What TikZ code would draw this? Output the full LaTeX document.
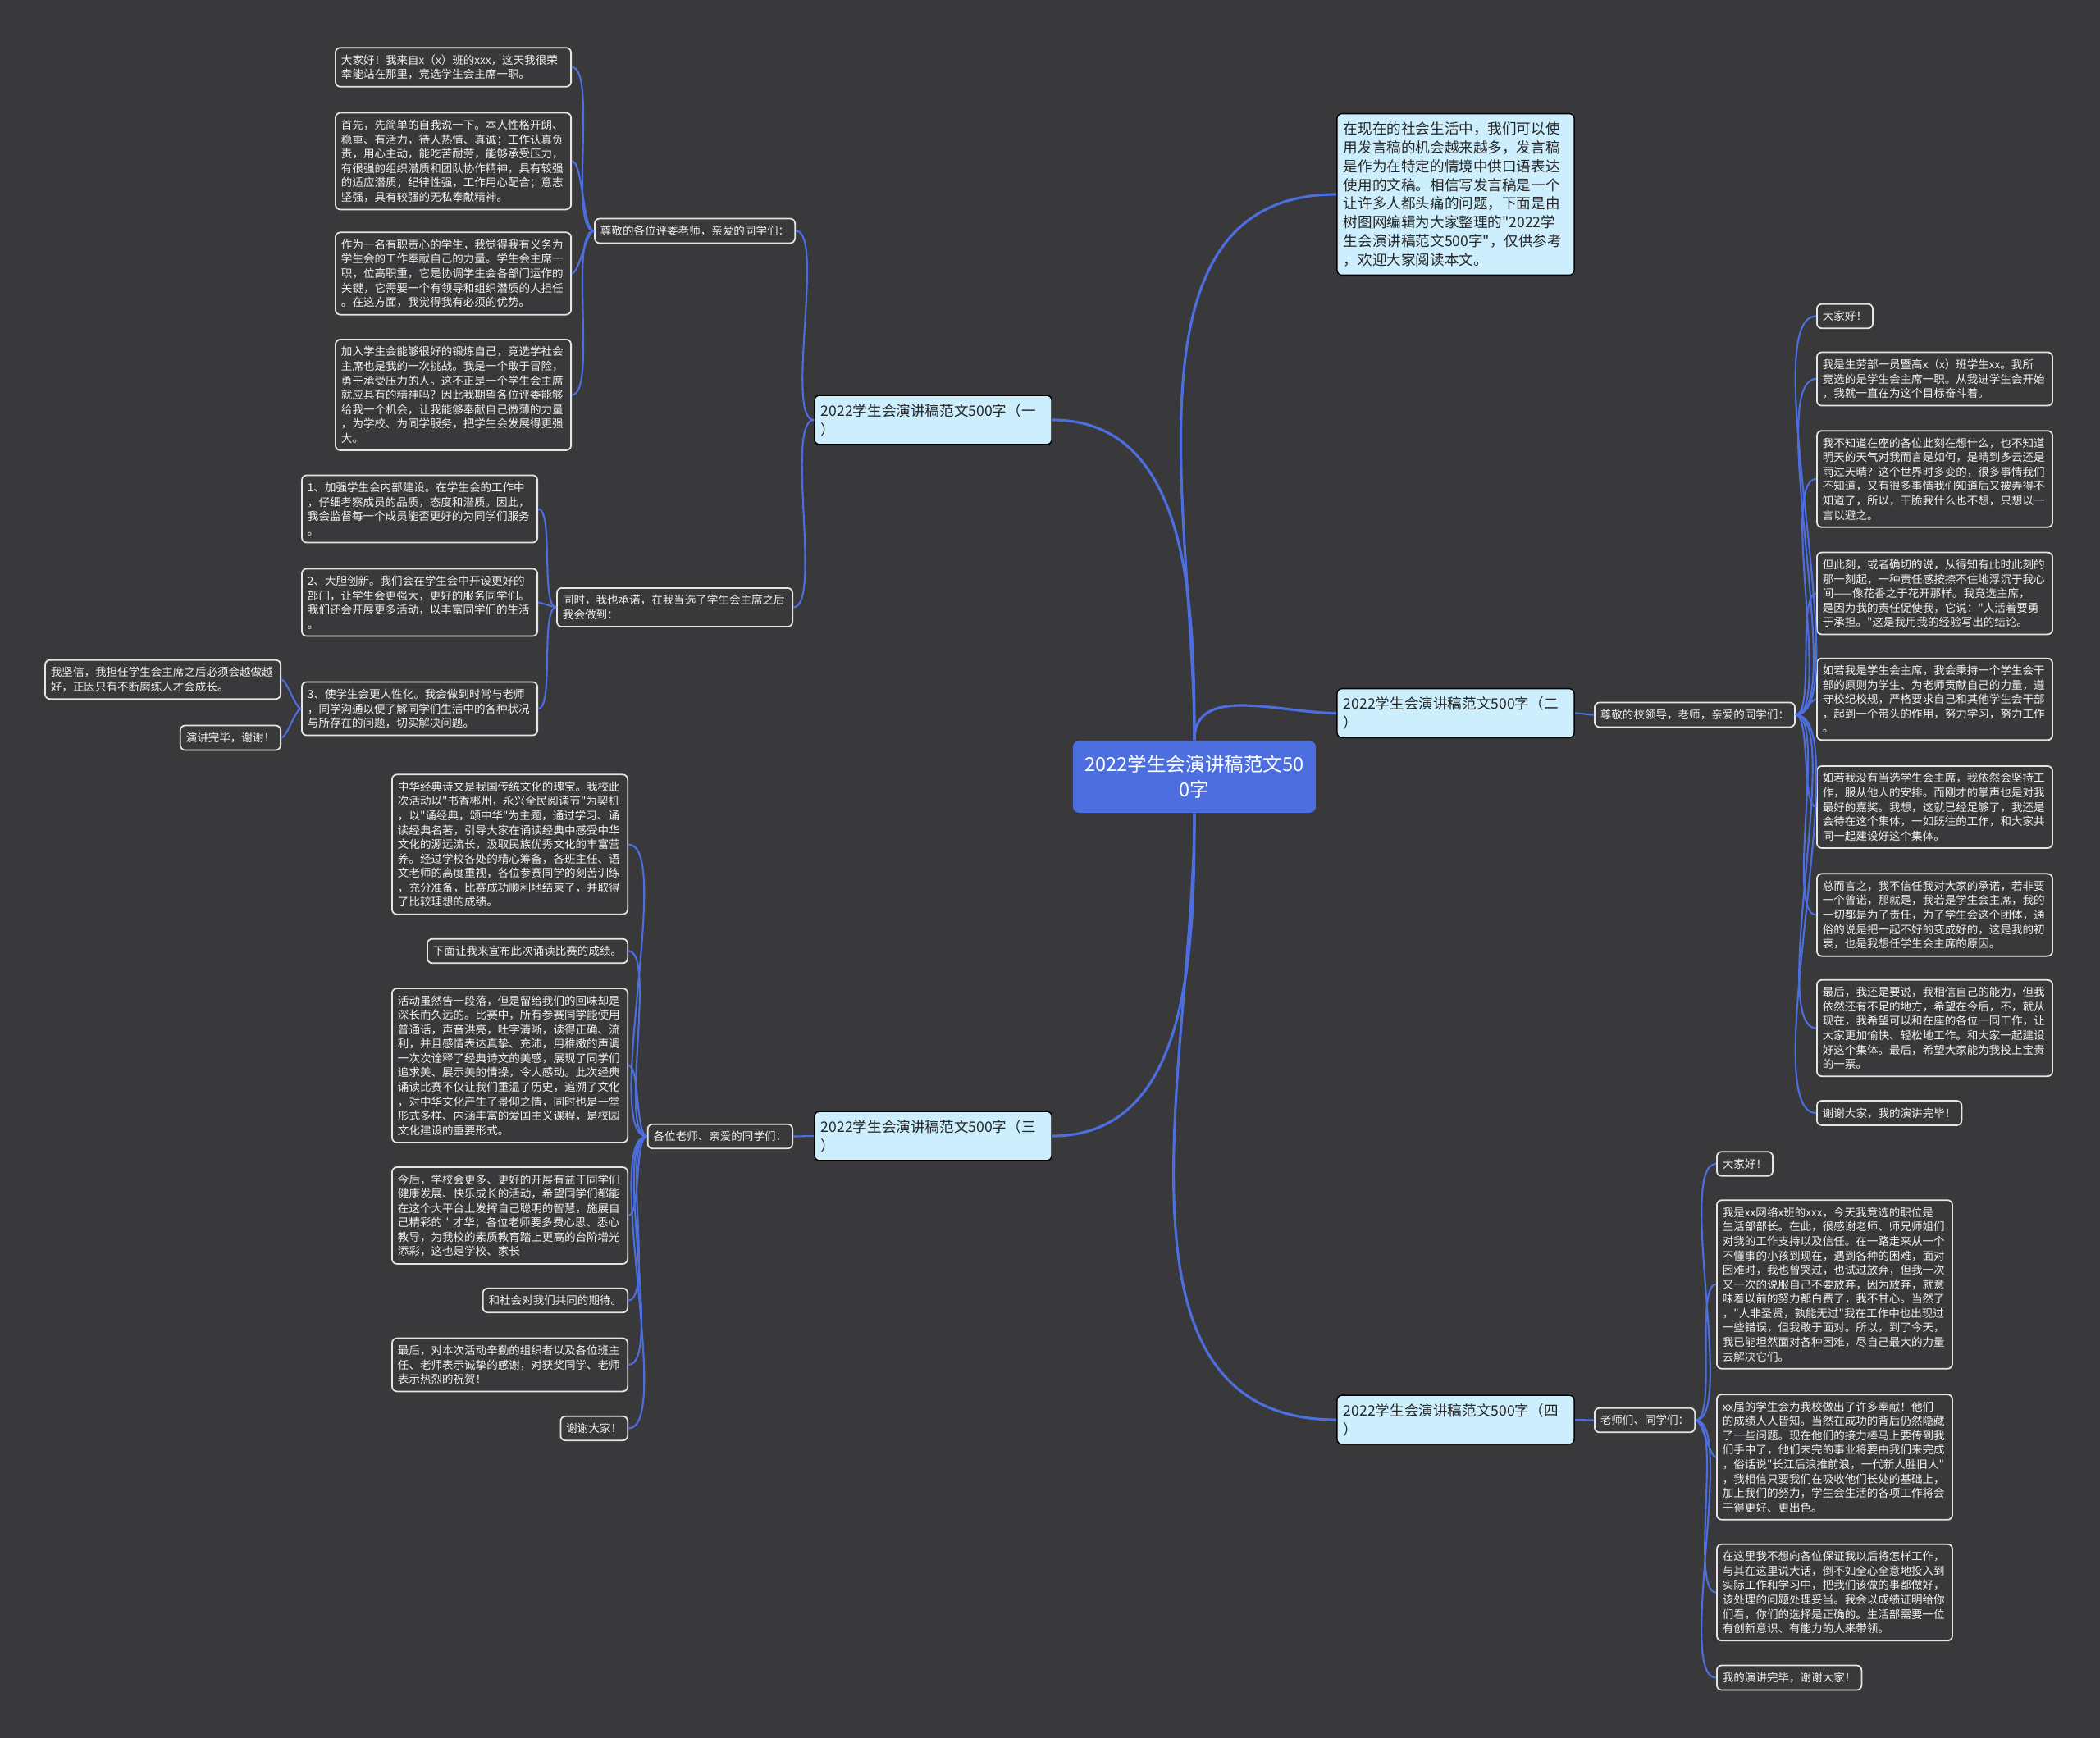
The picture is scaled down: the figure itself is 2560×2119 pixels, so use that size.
\documentclass[tikz,border=0pt]{standalone}
\usepackage{fontspec}
\newfontfamily\cjk{Noto Sans CJK SC}
\usepackage{tikz}
\definecolor{bgdark}{RGB}{57,56,58}
\definecolor{linkblue}{RGB}{76,110,222}
\definecolor{paleblue}{RGB}{204,238,253}
\tikzstyle{root node}  = [rectangle,rounded corners=0.8mm,fill=linkblue,text=white,font=\cjk\fontsize{6.7}{9}\selectfont,align=center,minimum width=2.96cm,minimum height=0.88cm,inner sep=0pt]
\tikzstyle{topic node} = [rectangle,rounded corners=0.6mm,draw=black,line width=0.4pt,fill=paleblue,text=black!85,font=\cjk\fontsize{5}{6.5}\selectfont,align=left,text width=2.73cm,inner xsep=0.08cm,inner ysep=0.1cm]
\tikzstyle{leaf node}  = [rectangle,rounded corners=0.6mm,draw=white!90!black,line width=0.5pt,fill=bgdark,text=white!95!black,font=\cjk\fontsize{3.85}{5}\selectfont,inner xsep=0.07cm,inner ysep=0.085cm]
\tikzstyle{wide leaf}  = [leaf node,align=left,text width=2.73cm]

\begin{document}
\begin{tikzpicture}[x=0.01cm,y=0.01cm,
                    trunk/.style={draw=linkblue,line width=0.9pt},
                    twig/.style={draw=linkblue,line width=0.6pt}
                    ]
\fill[bgdark] (0,0) rectangle (2560,-2119);
\useasboundingbox (0,0) rectangle (2560,-2119);

    \node[root node] (root) at (1456,-947) {2022学生会演讲稿范文50\\0字};

    \node[topic node] (intro) at (1774.5,-237) {在现在的社会生活中，我们可以使\\用发言稿的机会越来越多，发言稿\\是作为在特定的情境中供口语表达\\使用的文稿。相信写发言稿是一个\\让许多人都头痛的问题，下面是由\\树图网编辑为大家整理的"2022学\\生会演讲稿范文500字"，仅供参考\\，欢迎大家阅读本文。};
    \node[topic node] (t1) at (1137.5,-512) {2022学生会演讲稿范文500字（一\\）};
    \node[topic node] (t2) at (1774.5,-869.5) {2022学生会演讲稿范文500字（二\\）};
    \node[topic node] (t3) at (1137.5,-1385) {2022学生会演讲稿范文500字（三\\）};
    \node[topic node] (t4) at (1774.5,-1731) {2022学生会演讲稿范文500字（四\\）};

    % (一)
    \node[leaf node, anchor=east] (s1) at (970,-281.5) {尊敬的各位评委老师，亲爱的同学们：};
    \node[wide leaf, anchor=east] (a1) at (697,-82) {大家好！我来自x（x）班的xxx，这天我很荣\\幸能站在那里，竞选学生会主席一职。};
    \node[wide leaf, anchor=east] (a2) at (697,-196.5) {首先，先简单的自我说一下。本人性格开朗、\\稳重、有活力，待人热情、真诚；工作认真负\\责，用心主动，能吃苦耐劳，能够承受压力，\\有很强的组织潜质和团队协作精神，具有较强\\的适应潜质；纪律性强，工作用心配合；意志\\坚强，具有较强的无私奉献精神。};
    \node[wide leaf, anchor=east] (a3) at (697,-333.5) {作为一名有职责心的学生，我觉得我有义务为\\学生会的工作奉献自己的力量。学生会主席一\\职，位高职重，它是协调学生会各部门运作的\\关键，它需要一个有领导和组织潜质的人担任\\。在这方面，我觉得我有必须的优势。};
    \node[wide leaf, anchor=east] (a4) at (697,-481.5) {加入学生会能够很好的锻炼自己，竞选学社会\\主席也是我的一次挑战。我是一个敢于冒险，\\勇于承受压力的人。这不正是一个学生会主席\\就应具有的精神吗？因此我期望各位评委能够\\给我一个机会，让我能够奉献自己微薄的力量\\，为学校、为同学服务，把学生会发展得更强\\大。};

    \node[wide leaf, anchor=east] (s2) at (967,-740.5) {同时，我也承诺，在我当选了学生会主席之后\\我会做到：};
    \node[wide leaf, anchor=east] (b1) at (656,-620.5) {1、加强学生会内部建设。在学生会的工作中\\，仔细考察成员的品质，态度和潜质。因此，\\我会监督每一个成员能否更好的为同学们服务\\。};
    \node[wide leaf, anchor=east] (b2) at (656,-734.5) {2、大胆创新。我们会在学生会中开设更好的\\部门，让学生会更强大，更好的服务同学们。\\我们还会开展更多活动，以丰富同学们的生活\\。};
    \node[wide leaf, anchor=east] (b3) at (656,-864) {3、使学生会更人性化。我会做到时常与老师\\，同学沟通以便了解同学们生活中的各种状况\\与所存在的问题，切实解决问题。};
    \node[wide leaf, anchor=east] (b4) at (343,-828.5) {我坚信，我担任学生会主席之后必须会越做越\\好，正因只有不断磨练人才会成长。};
    \node[leaf node, anchor=east] (b5) at (343,-899.5) {演讲完毕，谢谢！};

    % (三)
    \node[leaf node, anchor=east] (s3) at (967,-1385.5) {各位老师、亲爱的同学们：};
    \node[wide leaf, anchor=east] (c1) at (766,-1029.5) {中华经典诗文是我国传统文化的瑰宝。我校此\\次活动以"书香郴州，永兴全民阅读节"为契机\\，以"诵经典，颂中华"为主题，通过学习、诵\\读经典名著，引导大家在诵读经典中感受中华\\文化的源远流长，汲取民族优秀文化的丰富营\\养。经过学校各处的精心筹备，各班主任、语\\文老师的高度重视，各位参赛同学的刻苦训练\\，充分准备，比赛成功顺利地结束了，并取得\\了比较理想的成绩。};
    \node[leaf node, anchor=east] (c2) at (766,-1159.5) {下面让我来宣布此次诵读比赛的成绩。};
    \node[wide leaf, anchor=east] (c3) at (766,-1299) {活动虽然告一段落，但是留给我们的回味却是\\深长而久远的。比赛中，所有参赛同学能使用\\普通话，声音洪亮，吐字清晰，读得正确、流\\利，并且感情表达真挚、充沛，用稚嫩的声调\\一次次诠释了经典诗文的美感，展现了同学们\\追求美、展示美的情操，令人感动。此次经典\\诵读比赛不仅让我们重温了历史，追溯了文化\\，对中华文化产生了景仰之情，同时也是一堂\\形式多样、内涵丰富的爱国主义课程，是校园\\文化建设的重要形式。};
    \node[wide leaf, anchor=east] (c4) at (766,-1482) {今后，学校会更多、更好的开展有益于同学们\\健康发展、快乐成长的活动，希望同学们都能\\在这个大平台上发挥自己聪明的智慧，施展自\\己精彩的~'~才华；各位老师要多费心思、悉心\\教导，为我校的素质教育踏上更高的台阶增光\\添彩，这也是学校、家长};
    \node[leaf node, anchor=east] (c5) at (766,-1585.5) {和社会对我们共同的期待。};
    \node[wide leaf, anchor=east] (c6) at (766,-1664) {最后，对本次活动辛勤的组织者以及各位班主\\任、老师表示诚挚的感谢，对获奖同学、老师\\表示热烈的祝贺！};
    \node[leaf node, anchor=east] (c7) at (766,-1741.5) {谢谢大家！};

    % (二)
    \node[leaf node, anchor=west] (s4) at (1943,-871.5) {尊敬的校领导，老师，亲爱的同学们：};
    \node[leaf node, anchor=west] (d1) at (2214,-385.5) {大家好！};
    \node[wide leaf, anchor=west] (d2) at (2214,-462) {我是生劳部一员暨高x（x）班学生xx。我所\\竞选的是学生会主席一职。从我进学生会开始\\，我就一直在为这个目标奋斗着。};
    \node[wide leaf, anchor=west] (d3) at (2214,-584) {我不知道在座的各位此刻在想什么，也不知道\\明天的天气对我而言是如何，是晴到多云还是\\雨过天晴？这个世界时多变的，很多事情我们\\不知道，又有很多事情我们知道后又被弄得不\\知道了，所以，干脆我什么也不想，只想以一\\言以避之。};
    \node[wide leaf, anchor=west] (d4) at (2214,-723.5) {但此刻，或者确切的说，从得知有此时此刻的\\那一刻起，一种责任感按捺不住地浮沉于我心\\间——像花香之于花开那样。我竞选主席，\\是因为我的责任促使我，它说："人活着要勇\\于承担。"这是我用我的经验写出的结论。};
    \node[wide leaf, anchor=west] (d5) at (2214,-852.5) {如若我是学生会主席，我会秉持一个学生会干\\部的原则为学生、为老师贡献自己的力量，遵\\守校纪校规，严格要求自己和其他学生会干部\\，起到一个带头的作用，努力学习，努力工作\\。};
    \node[wide leaf, anchor=west] (d6) at (2214,-984) {如若我没有当选学生会主席，我依然会坚持工\\作，服从他人的安排。而刚才的掌声也是对我\\最好的嘉奖。我想，这就已经足够了，我还是\\会待在这个集体，一如既往的工作，和大家共\\同一起建设好这个集体。};
    \node[wide leaf, anchor=west] (d7) at (2214,-1115.5) {总而言之，我不信任我对大家的承诺，若非要\\一个曾诺，那就是，我若是学生会主席，我的\\一切都是为了责任，为了学生会这个团体，通\\俗的说是把一起不好的变成好的，这是我的初\\衷，也是我想任学生会主席的原因。};
    \node[wide leaf, anchor=west] (d8) at (2214,-1253.5) {最后，我还是要说，我相信自己的能力，但我\\依然还有不足的地方，希望在今后，不，就从\\现在，我希望可以和在座的各位一同工作，让\\大家更加愉快、轻松地工作。和大家一起建设\\好这个集体。最后，希望大家能为我投上宝贵\\的一票。};
    \node[leaf node, anchor=west] (d9) at (2214,-1357) {谢谢大家，我的演讲完毕！};

    % (四)
    \node[leaf node, anchor=west] (s5) at (1943,-1731.5) {老师们、同学们：};
    \node[leaf node, anchor=west] (e1) at (2092,-1419) {大家好！};
    \node[wide leaf, anchor=west] (e2) at (2092,-1566) {我是xx网络x班的xxx，今天我竞选的职位是\\生活部部长。在此，很感谢老师、师兄师姐们\\对我的工作支持以及信任。在一路走来从一个\\不懂事的小孩到现在，遇到各种的困难，面对\\困难时，我也曾哭过，也试过放弃，但我一次\\又一次的说服自己不要放弃，因为放弃，就意\\味着以前的努力都白费了，我不甘心。当然了\\，"人非圣贤，孰能无过"我在工作中也出现过\\一些错误，但我敢于面对。所以，到了今天，\\我已能坦然面对各种困难，尽自己最大的力量\\去解决它们。};
    \node[wide leaf, anchor=west] (e3) at (2092,-1776.5) {xx届的学生会为我校做出了许多奉献！他们\\的成绩人人皆知。当然在成功的背后仍然隐藏\\了一些问题。现在他们的接力棒马上要传到我\\们手中了，他们未完的事业将要由我们来完成\\，俗话说"长江后浪推前浪，一代新人胜旧人"\\，我相信只要我们在吸收他们长处的基础上，\\加上我们的努力，学生会生活的各项工作将会\\干得更好、更出色。};
    \node[wide leaf, anchor=west] (e4) at (2092,-1941.5) {在这里我不想向各位保证我以后将怎样工作，\\与其在这里说大话，倒不如全心全意地投入到\\实际工作和学习中，把我们该做的事都做好，\\该处理的问题处理妥当。我会以成绩证明给你\\们看，你们的选择是正确的。生活部需要一位\\有创新意识、有能力的人来带领。};
    \node[leaf node, anchor=west] (e5) at (2092,-2045.5) {我的演讲完毕，谢谢大家！};

    \draw[trunk] (root.north) to[out=90,in=180] (intro.west);
    \draw[trunk] (root.north) to[out=90,in=0] (t1.east);
    \draw[trunk] (root.north) to[out=90,in=180] (t2.west);
    \draw[trunk] (root.south) to[out=-90,in=0] (t3.east);
    \draw[trunk] (root.south) to[out=-90,in=180] (t4.west);

    \foreach \n in {s1,s2} \draw[twig] (t1.west) to[out=180,in=0,looseness=0.4] (\n.east);
    \foreach \n in {a1,a2,a3,a4} \draw[twig] (s1.west) to[out=180,in=0,looseness=0.4] (\n.east);
    \foreach \n in {b1,b2,b3} \draw[twig] (s2.west) to[out=180,in=0,looseness=0.4] (\n.east);
    \foreach \n in {b4,b5} \draw[twig] (b3.west) to[out=180,in=0,looseness=0.4] (\n.east);
    \draw[twig] (t3.west) to[out=180,in=0] (s3.east);
    \foreach \n in {c1,c2,c3,c4,c5,c6,c7} \draw[twig] (s3.west) to[out=180,in=0,looseness=0.4] (\n.east);
    \draw[twig] (t2.east) to[out=0,in=180] (s4.west);
    \foreach \n in {d1,d2,d3,d4,d5,d6,d7,d8,d9} \draw[twig] (s4.east) to[out=0,in=180,looseness=0.4] (\n.west);
    \draw[twig] (t4.east) to[out=0,in=180] (s5.west);
    \foreach \n in {e1,e2,e3,e4,e5} \draw[twig] (s5.east) to[out=0,in=180,looseness=0.4] (\n.west);

\end{tikzpicture}
\end{document}
